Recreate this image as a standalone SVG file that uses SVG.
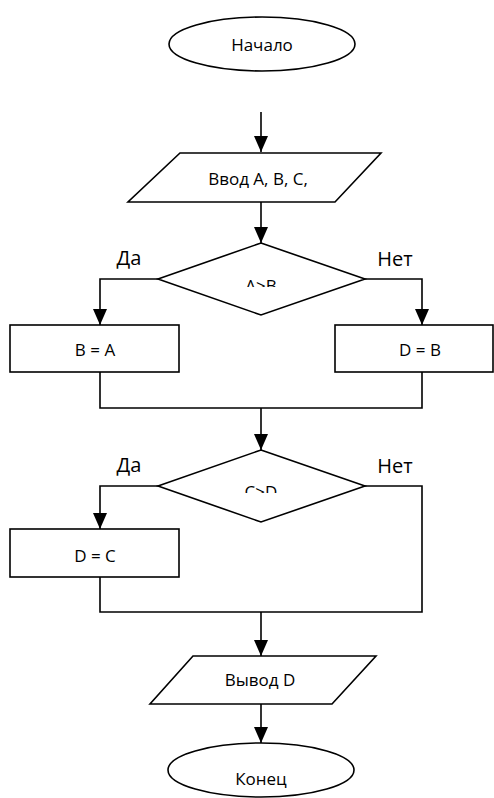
<svg xmlns="http://www.w3.org/2000/svg" width="494" height="798" viewBox="0 0 494 798">
<style>
.s{fill:#fff;stroke:#000;stroke-width:1.6}
.c{fill:none;stroke:#000;stroke-width:1.6}
.t{font-family:"Open Sans","Noto Sans",sans-serif;font-size:17px;fill:#000;text-anchor:middle}
.l{font-family:"Open Sans","Noto Sans",sans-serif;font-size:20px;fill:#000;text-anchor:middle}
</style>
<defs>
<marker id="a" markerUnits="userSpaceOnUse" markerWidth="16" markerHeight="14" refX="16" refY="7" orient="auto">
<path d="M0,0 L16,7 L0,14 z" fill="#000"/>
</marker>
<clipPath id="k1"><rect x="200" y="270" width="120" height="17"/></clipPath>
<clipPath id="k2"><rect x="200" y="476" width="120" height="17"/></clipPath>
</defs>
<g id="connectors">
<path class="c" d="M261,112 V152" marker-end="url(#a)"/>
<path class="c" d="M261,202 V243" marker-end="url(#a)"/>
<path class="c" d="M158,279 H100 V325" marker-end="url(#a)"/>
<path class="c" d="M365,279 H422 V325" marker-end="url(#a)"/>
<path class="c" d="M100,372 V408 H422 V372"/>
<path class="c" d="M261,408 V450" marker-end="url(#a)"/>
<path class="c" d="M158,486 H100 V529" marker-end="url(#a)"/>
<path class="c" d="M365,486 H422 V612 H100 V577"/>
<path class="c" d="M261,612 V656" marker-end="url(#a)"/>
<path class="c" d="M261,704 V743" marker-end="url(#a)"/>
<text class="l" x="129" y="265">Да</text>
<text class="l" x="395" y="266">Нет</text>
<text class="l" x="129" y="472">Да</text>
<text class="l" x="395" y="473">Нет</text>
</g>
<g id="start">
<ellipse class="s" cx="262" cy="44" rx="93" ry="27"/>
<text class="t" x="262" y="51">Начало</text>
</g>
<g id="input">
<polygon class="s" points="180,153 381,153 335,202 128,202"/>
<text class="t" x="258" y="185">Ввод А, В, С,</text>
</g>
<g id="cond1">
<polygon class="s" points="261,243 365,279 261,315 158,279"/>
<text class="t" x="261" y="292" clip-path="url(#k1)">A&gt;B</text>
</g>
<g id="ba">
<rect class="s" x="10" y="325" width="169" height="47"/>
<text class="t" x="95" y="356">B = A</text>
</g>
<g id="db">
<rect class="s" x="335" y="325" width="158" height="47"/>
<text class="t" x="420" y="356">D = B</text>
</g>
<g id="cond2">
<polygon class="s" points="261,450 365,486 261,522 158,486"/>
<text class="t" x="261" y="498" clip-path="url(#k2)">C&gt;D</text>
</g>
<g id="dc">
<rect class="s" x="10" y="529" width="169" height="48"/>
<text class="t" x="95" y="562">D = C</text>
</g>
<g id="output">
<polygon class="s" points="193,656 376,656 332,704 150,704"/>
<text class="t" x="260" y="686">Вывод D</text>
</g>
<g id="end">
<ellipse class="s" cx="261" cy="770" rx="93" ry="27"/>
<text class="t" x="261" y="785">Конец</text>
</g>
</svg>
